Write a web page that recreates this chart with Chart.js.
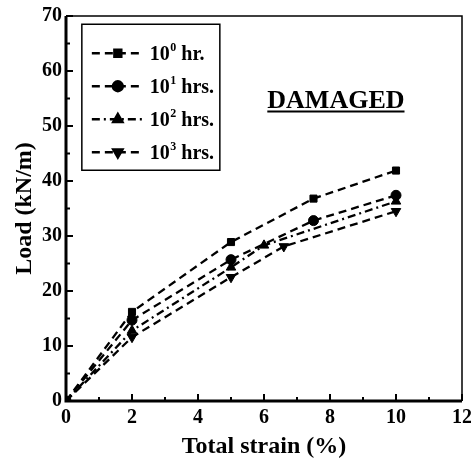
<!DOCTYPE html>
<html>
<head>
<meta charset="utf-8">
<script src="https://cdn.jsdelivr.net/npm/chart.js@4"></script>
<style>
html,body{margin:0;padding:0;background:#fff;}
#wrap{width:471px;height:462px;}
</style>
</head>
<body>
<div id="wrap"><canvas id="c" width="471" height="462"></canvas></div>
<script>
const seriesLabels = ['10\u2070 hr.', '10\u00B9 hrs.', '10\u00B2 hrs.', '10\u00B3 hrs.'];
const legendBase = ['10', '10', '10', '10'];
const legendExp = ['0', '1', '2', '3'];
const legendUnit = [' hr.', ' hrs.', ' hrs.', ' hrs.'];
const s1x = [0, 2, 5, 7.5, 10];
const s1y = [0, 16.2, 28.9, 36.8, 41.9];
const s2x = [0, 2, 5, 7.5, 10];
const s2y = [0, 14.7, 25.7, 32.8, 37.4];
const s3x = [0, 2, 5, 6, 10];
const s3y = [0, 12.8, 24.3, 28.3, 36.3];
const s4x = [0, 2, 5, 6.6, 10];
const s4y = [0, 11.6, 22.5, 28.1, 34.5];
const xTicks = [0, 2, 4, 6, 8, 10, 12];
const yTicks = [0, 10, 20, 30, 40, 50, 60, 70];
const annotationText = 'DAMAGED';

const pts = (xs, ys) => xs.map((x, i) => ({x: x, y: ys[i]}));
const serif = "'Liberation Serif', 'DejaVu Serif', serif";

const markers = [
  {style: 'rect', rot: 0, r: 5, dash: [8, 5]},
  {style: 'circle', rot: 0, r: 5, dash: [8, 5]},
  {style: 'triangle', rot: 0, r: 5.5, dash: [8, 4, 2, 4]},
  {style: 'triangle', rot: 180, r: 5.5, dash: [8, 5]}
];
const datasets = [pts(s1x, s1y), pts(s2x, s2y), pts(s3x, s3y), pts(s4x, s4y)].map((d, i) => ({
  label: seriesLabels[i],
  data: d,
  borderColor: '#000',
  backgroundColor: '#000',
  borderWidth: 2.3,
  borderDash: markers[i].dash,
  pointStyle: markers[i].style,
  pointRotation: markers[i].rot,
  pointRadius: markers[i].r,
  pointBorderWidth: 1,
  tension: 0,
  fill: false
}));

const framePlugin = {
  id: 'frame',
  afterDraw(chart) {
    const ctx = chart.ctx;
    const a = chart.chartArea;
    const xs = chart.scales.x, ys = chart.scales.y;
    ctx.save();
    ctx.strokeStyle = '#000';
    ctx.fillStyle = '#000';
    // frame
    ctx.lineWidth = 1.5;
    ctx.beginPath();
    ctx.moveTo(a.left, a.top); ctx.lineTo(a.right, a.top); ctx.lineTo(a.right, a.bottom);
    ctx.stroke();
    ctx.lineWidth = 3;
    ctx.beginPath();
    ctx.moveTo(a.left, a.top); ctx.lineTo(a.left, a.bottom); ctx.lineTo(a.right, a.bottom);
    ctx.stroke();
    // inward ticks
    ctx.lineWidth = 2;
    for (let v = 0; v <= 70; v += 5) {
      const y = ys.getPixelForValue(v);
      const len = v % 10 === 0 ? 7 : 4;
      ctx.beginPath(); ctx.moveTo(a.left, y); ctx.lineTo(a.left + len, y); ctx.stroke();
    }
    for (let v = 0; v <= 12; v += 1) {
      const x = xs.getPixelForValue(v);
      const len = v % 2 === 0 ? 7 : 4;
      ctx.beginPath(); ctx.moveTo(x, a.bottom); ctx.lineTo(x, a.bottom - len); ctx.stroke();
    }
    // annotation
    ctx.font = 'bold 26px ' + serif;
    ctx.textAlign = 'left';
    ctx.textBaseline = 'alphabetic';
    const tx = xs.getPixelForValue(6.1), ty = ys.getPixelForValue(53.2);
    ctx.fillText(annotationText, tx, ty);
    const w = ctx.measureText(annotationText).width;
    ctx.lineWidth = 2;
    ctx.beginPath(); ctx.moveTo(tx, ty + 3); ctx.lineTo(tx + w, ty + 3); ctx.stroke();
    // legend
    const lx = xs.getPixelForValue(0.48), lyTop = ys.getPixelForValue(68.5);
    const lw = 138, lh = 146;
    ctx.lineWidth = 1.5;
    ctx.strokeRect(lx, lyTop, lw, lh);
    chart.data.datasets.forEach((ds, i) => {
      const cy = lyTop + 29 + i * 33;
      ctx.lineWidth = 2.3;
      ctx.setLineDash(ds.borderDash);
      ctx.beginPath(); ctx.moveTo(lx + 10, cy); ctx.lineTo(lx + 60, cy); ctx.stroke();
      ctx.setLineDash([]);
      Chart.helpers.drawPoint(ctx, {pointStyle: ds.pointStyle, rotation: ds.pointRotation, radius: ds.pointRadius, borderWidth: 1}, lx + 36, cy);
      ctx.fill();
      ctx.textBaseline = 'alphabetic';
      const by = cy + 7;
      let x = lx + 68;
      ctx.font = 'bold 20px ' + serif;
      ctx.fillText(legendBase[i], x, by);
      x += ctx.measureText(legendBase[i]).width + 0.5;
      ctx.font = 'bold 12px ' + serif;
      ctx.fillText(legendExp[i], x, by - 9);
      x += ctx.measureText(legendExp[i]).width;
      ctx.font = 'bold 20px ' + serif;
      ctx.fillText(legendUnit[i], x, by);
    });
    ctx.restore();
  }
};

new Chart(document.getElementById('c'), {
  type: 'line',
  data: {datasets: datasets},
  options: {
    responsive: false,
    animation: false,
    layout: {padding: {top: 16, right: 9, left: 0, bottom: 0}},
    plugins: {legend: {display: false}, tooltip: {enabled: false}},
    scales: {
      x: {
        type: 'linear', min: 0, max: 12,
        afterBuildTicks: s => { s.ticks = xTicks.map(v => ({value: v})); },
        afterFit: s => { s.height = 61; s.paddingLeft = 0; s.paddingRight = 0; },
        grid: {display: false, drawTicks: false},
        border: {display: false},
        ticks: {color: '#000', padding: 5, font: {family: serif, size: 20, weight: 'bold'}},
        title: {display: true, text: 'Total strain (%)', color: '#000', padding: {top: 0, bottom: 1}, font: {family: serif, size: 24, weight: 'bold'}}
      },
      y: {
        type: 'linear', min: 0, max: 70,
        afterBuildTicks: s => { s.ticks = yTicks.map(v => ({value: v})); },
        afterFit: s => { s.width = 66; s.paddingTop = 0; s.paddingBottom = 0; },
        grid: {display: false, drawTicks: false},
        border: {display: false},
        ticks: {color: '#000', padding: 4, font: {family: serif, size: 20, weight: 'bold'}},
        title: {display: true, text: 'Load (kN/m)', color: '#000', padding: {top: 10, bottom: 0}, font: {family: serif, size: 24, weight: 'bold'}}
      }
    }
  },
  plugins: [framePlugin]
});
</script>
</body>
</html>
